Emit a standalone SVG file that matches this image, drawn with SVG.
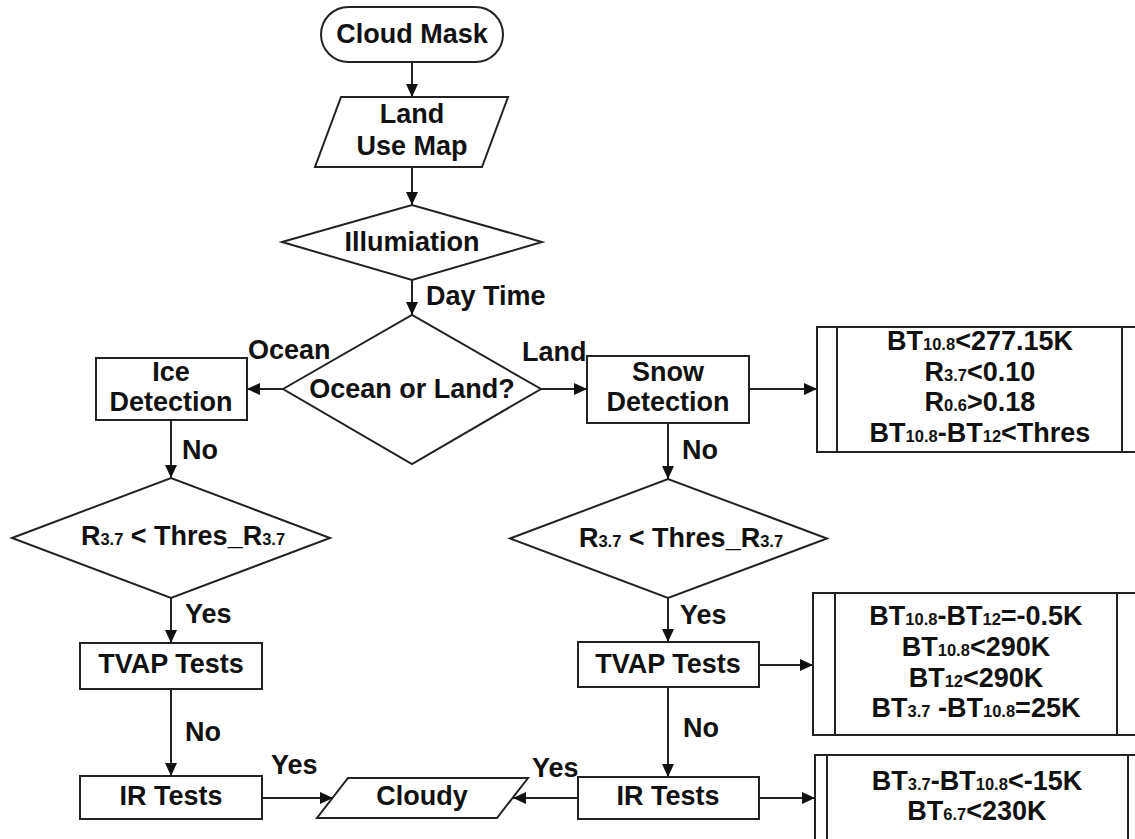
<svg xmlns="http://www.w3.org/2000/svg" width="1135" height="839" viewBox="0 0 1135 839">
<defs>
<style>
.s{fill:#fff;stroke:#222;stroke-width:2}
.c{fill:none;stroke:#222;stroke-width:2}
.t{font-family:"Liberation Sans",Arial,sans-serif;font-weight:bold;font-size:27px;fill:#111;text-anchor:middle}
.l{font-family:"Liberation Sans",Arial,sans-serif;font-weight:bold;font-size:27px;fill:#111}
.sub{font-size:16.5px}
</style>
<marker id="ah" markerUnits="userSpaceOnUse" markerWidth="13" markerHeight="12" refX="13" refY="6" orient="auto">
<path d="M0,0 L13,6 L0,12 z" fill="#111"/>
</marker>
</defs>
<rect width="1135" height="839" fill="#fff"/>

<g id="connectors">
<line class="c" x1="412" y1="62" x2="412" y2="97" marker-end="url(#ah)"/>
<line class="c" x1="412" y1="167" x2="412" y2="205" marker-end="url(#ah)"/>
<line class="c" x1="412" y1="280" x2="412" y2="315" marker-end="url(#ah)"/>
<line class="c" x1="283" y1="389" x2="247" y2="389" marker-end="url(#ah)"/>
<line class="c" x1="541" y1="389" x2="587" y2="389" marker-end="url(#ah)"/>
<line class="c" x1="749" y1="389" x2="817" y2="389" marker-end="url(#ah)"/>
<line class="c" x1="171" y1="420" x2="171" y2="478" marker-end="url(#ah)"/>
<line class="c" x1="668" y1="423" x2="668" y2="479" marker-end="url(#ah)"/>
<line class="c" x1="171" y1="598" x2="171" y2="643" marker-end="url(#ah)"/>
<line class="c" x1="668" y1="598" x2="668" y2="642" marker-end="url(#ah)"/>
<line class="c" x1="171" y1="689" x2="171" y2="776" marker-end="url(#ah)"/>
<line class="c" x1="668" y1="687" x2="668" y2="777" marker-end="url(#ah)"/>
<line class="c" x1="759" y1="665" x2="813" y2="665" marker-end="url(#ah)"/>
<line class="c" x1="262" y1="798" x2="333" y2="798" marker-end="url(#ah)"/>
<line class="c" x1="578" y1="798" x2="513" y2="798" marker-end="url(#ah)"/>
<line class="c" x1="759" y1="798" x2="815" y2="798" marker-end="url(#ah)"/>
<text class="l" x="426" y="305">Day Time</text>
<text class="l" x="248" y="359">Ocean</text>
<text class="l" x="522" y="361">Land</text>
<text class="l" x="182" y="459">No</text>
<text class="l" x="682" y="459">No</text>
<text class="l" x="185" y="623">Yes</text>
<text class="l" x="680" y="624">Yes</text>
<text class="l" x="185" y="741">No</text>
<text class="l" x="683" y="737">No</text>
<text class="l" x="271" y="774">Yes</text>
<text class="l" x="532" y="777">Yes</text>
</g>

<g id="cloud-mask">
<rect class="s" x="321" y="7" width="182" height="55" rx="27.5"/>
<text class="t" x="412" y="43">Cloud Mask</text>
</g>

<g id="land-use-map">
<polygon class="s" points="341,97 508,97 482,167 315,167"/>
<text class="t" x="412" y="123">Land</text>
<text class="t" x="412" y="155">Use Map</text>
</g>

<g id="illumination">
<polygon class="s" points="282,242 412,205 542,242 412,280"/>
<text class="t" x="412" y="251">Illumiation</text>
</g>

<g id="ocean-or-land">
<polygon class="s" points="283,389 412,315 541,389 412,464"/>
<text class="t" x="412" y="398">Ocean or Land?</text>
</g>

<g id="ice-detection">
<rect class="s" x="96" y="358" width="151" height="62"/>
<text class="t" x="171" y="381">Ice</text>
<text class="t" x="171" y="411">Detection</text>
</g>

<g id="snow-detection">
<rect class="s" x="587" y="356" width="162" height="67"/>
<text class="t" x="668" y="381">Snow</text>
<text class="t" x="668" y="411">Detection</text>
</g>

<g id="snow-conditions">
<rect class="s" x="817" y="327" width="340" height="125"/>
<line class="c" x1="837" y1="327" x2="837" y2="452"/>
<line class="c" x1="1122" y1="327" x2="1122" y2="452"/>
<text class="t" x="980" y="350">BT<tspan class="sub">10.8</tspan>&lt;277.15K</text>
<text class="t" x="980" y="381">R<tspan class="sub">3.7</tspan>&lt;0.10</text>
<text class="t" x="980" y="411">R<tspan class="sub">0.6</tspan>&gt;0.18</text>
<text class="t" x="980" y="442">BT<tspan class="sub">10.8</tspan>-BT<tspan class="sub">12</tspan>&lt;Thres</text>
</g>

<g id="ocean-r37">
<polygon class="s" points="12,538 171,478 330,538 171,598"/>
<text class="t" x="183" y="545">R<tspan class="sub">3.7</tspan> &lt; Thres_R<tspan class="sub">3.7</tspan></text>
</g>

<g id="land-r37">
<polygon class="s" points="510,538.5 668,479 827,538.5 668,598"/>
<text class="t" x="681" y="547">R<tspan class="sub">3.7</tspan> &lt; Thres_R<tspan class="sub">3.7</tspan></text>
</g>

<g id="ocean-tvap">
<rect class="s" x="80" y="643" width="182" height="46"/>
<text class="t" x="171" y="673">TVAP Tests</text>
</g>

<g id="land-tvap">
<rect class="s" x="578" y="642" width="181" height="45"/>
<text class="t" x="668" y="673">TVAP Tests</text>
</g>

<g id="tvap-conditions">
<rect class="s" x="813" y="593" width="340" height="142"/>
<line class="c" x1="835" y1="593" x2="835" y2="735"/>
<line class="c" x1="1117" y1="593" x2="1117" y2="735"/>
<text class="t" x="976" y="625">BT<tspan class="sub">10.8</tspan>-BT<tspan class="sub">12</tspan>=-0.5K</text>
<text class="t" x="976" y="656">BT<tspan class="sub">10.8</tspan>&lt;290K</text>
<text class="t" x="976" y="687">BT<tspan class="sub">12</tspan>&lt;290K</text>
<text class="t" x="976" y="717">BT<tspan class="sub">3.7</tspan> -BT<tspan class="sub">10.8</tspan>=25K</text>
</g>

<g id="ocean-ir">
<rect class="s" x="80" y="776" width="182" height="43"/>
<text class="t" x="171" y="805">IR Tests</text>
</g>

<g id="cloudy">
<polygon class="s" points="348,778 528,778 497,818 317,818"/>
<text class="t" x="422" y="805">Cloudy</text>
</g>

<g id="land-ir">
<rect class="s" x="578" y="777" width="181" height="42"/>
<text class="t" x="668" y="805">IR Tests</text>
</g>

<g id="ir-conditions">
<rect class="s" x="815" y="755" width="340" height="120"/>
<line class="c" x1="827" y1="755" x2="827" y2="875"/>
<line class="c" x1="1128" y1="755" x2="1128" y2="875"/>
<text class="t" x="977" y="790">BT<tspan class="sub">3.7</tspan>-BT<tspan class="sub">10.8</tspan>&lt;-15K</text>
<text class="t" x="977" y="820">BT<tspan class="sub">6.7</tspan>&lt;230K</text>
</g>
</svg>
